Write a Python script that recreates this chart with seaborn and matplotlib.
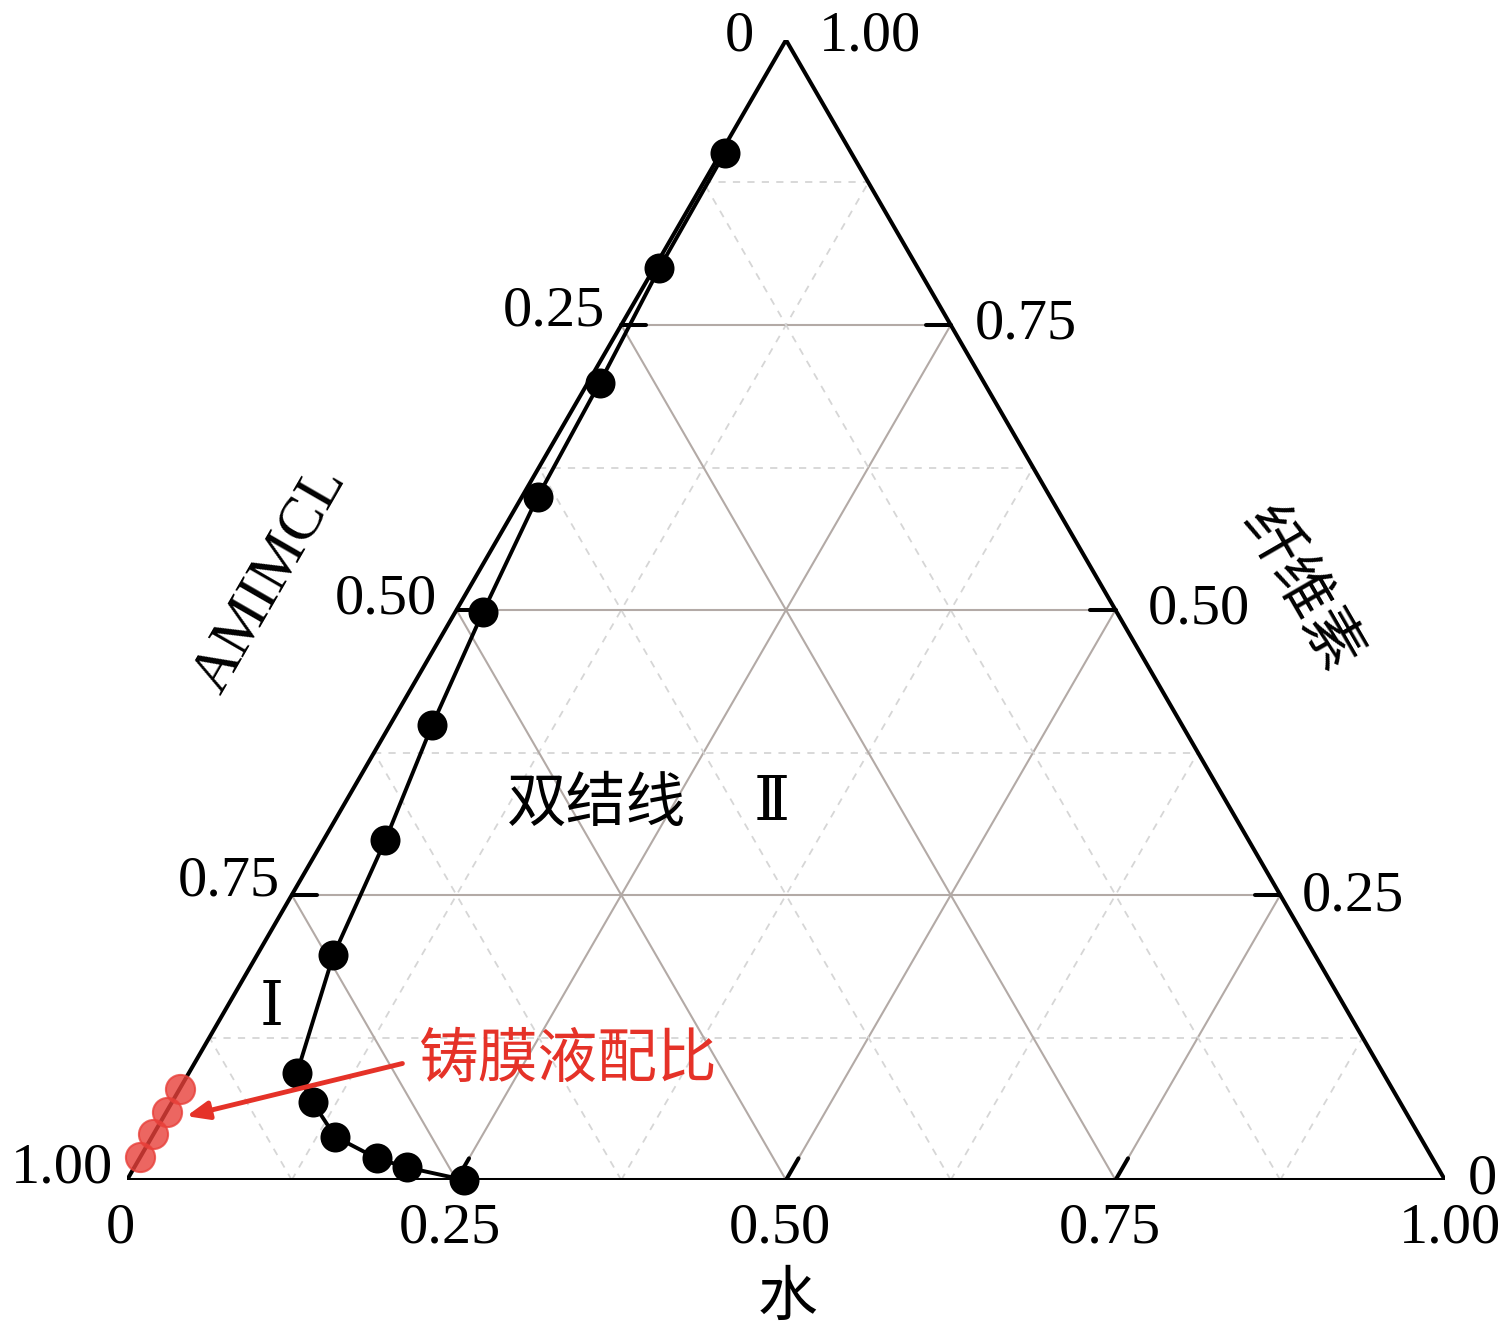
import numpy as np
import pandas as pd
import matplotlib
matplotlib.use('Agg')
import matplotlib.pyplot as plt
import seaborn as sns

# Binodal curve points (mass fractions)
binodal_water = [0.003, 0.004, 0.009, 0.012, 0.021, 0.032, 0.047, 0.058, 0.082, 0.107, 0.139, 0.180, 0.207, 0.256]
binodal_cellulose = [0.901, 0.800, 0.699, 0.599, 0.498, 0.399, 0.298, 0.197, 0.094, 0.068, 0.038, 0.019, 0.011, 0.0]

# Casting solution ratios (red points)
cast_water = [0.0, 0.0, 0.0, 0.0]
cast_cellulose = [0.08, 0.06, 0.04, 0.02]

tick_values = [0.25, 0.50, 0.75]

H = np.sqrt(3) / 2


def to_xy(w, c):
    w = np.asarray(w, dtype=float)
    c = np.asarray(c, dtype=float)
    return w + c / 2, c * H


sns.set_theme(style="white")
plt.rcParams['font.family'] = ['Liberation Serif', 'DejaVu Serif', 'Noto Sans CJK SC']
plt.rcParams['text.color'] = 'black'
cjk = ['Noto Sans CJK SC', 'DejaVu Sans']

fig = plt.figure(figsize=(15.09, 13.38), dpi=100)
ax = fig.add_axes([127 / 1509, 158 / 1338, 1318 / 1509, 1140 / 1338])
ax.set_xlim(0, 1)
ax.set_ylim(0, H)
ax.axis('off')

# Grid lines
for k in range(1, 8):
    v = k / 8
    solid = (k % 2 == 0)
    kw = dict(color='#b3aaa6', lw=1.5, ls='-') if solid else dict(color='#d6d6d6', lw=1.3, ls=(0, (4, 4)))
    # cellulose constant
    ax.plot([v / 2, 1 - v / 2], [v * H, v * H], zorder=1, **kw)
    # water constant
    ax.plot([v, v + (1 - v) / 2], [0, (1 - v) * H], zorder=1, **kw)
    # AMIMCL constant
    ax.plot([v, v / 2], [0, v * H], zorder=1, **kw)

# Triangle frame
ax.plot([0, 1, 0.5, 0], [0, 0, H, 0], color='black', lw=2.9, zorder=3, solid_joinstyle='miter')

# Tick marks
tl = 0.019
for v in tick_values:
    # left edge (AMIMCL), horizontal inward
    ax.plot([(1 - v) / 2, (1 - v) / 2 + tl], [(1 - v) * H, (1 - v) * H], color='black', lw=2.9, zorder=3)
    # right edge (cellulose), horizontal inward
    ax.plot([1 - v / 2, 1 - v / 2 - tl], [v * H, v * H], color='black', lw=2.9, zorder=3)
    # bottom edge (water), slanted inward
    ax.plot([v, v + tl * 0.5], [0, tl * H], color='black', lw=2.9, zorder=3)

# Binodal curve
bx, by = to_xy(binodal_water, binodal_cellulose)
df_b = pd.DataFrame({'x': bx, 'y': by})
sns.lineplot(data=df_b, x='x', y='y', sort=False, color='black', lw=2.8, ax=ax, zorder=4)
sns.scatterplot(data=df_b, x='x', y='y', color='black', s=400, edgecolor='black', ax=ax, zorder=5, clip_on=False)

# Casting solution points
cx, cy = to_xy(cast_water, cast_cellulose)
df_c = pd.DataFrame({'x': cx, 'y': cy})
sns.scatterplot(data=df_c, x='x', y='y', color='#e8403a', alpha=0.8, s=440, edgecolor='#e8403a',
                linewidth=1.5, ax=ax, zorder=6, clip_on=False)
ax.set_xlabel('')
ax.set_ylabel('')

# Arrow
ax.annotate('', xy=(0.043, 0.048), xytext=(0.211, 0.089),
            arrowprops=dict(arrowstyle='-|>,head_length=1.1,head_width=0.45', color='#e53228', lw=3.5),
            zorder=7)

fs = 42
# Apex labels
ax.text(0.465, 0.8686, '0', fontsize=fs, ha='center', va='center', clip_on=False)
ax.text(0.5637, 0.8686, '1.00', fontsize=fs, ha='center', va='center', clip_on=False)

# Left axis labels
for (xr, yc, lab) in [(0.3627, 0.6596, '0.25'), (0.2352, 0.4407, '0.50'), (0.1161, 0.2264, '0.75'), (-0.0106, 0.0091, '1.00')]:
    ax.text(xr, yc, lab, fontsize=fs, ha='right', va='center', clip_on=False)

# Bottom axis labels
for (xc, lab) in [(-0.0053, '0'), (0.245, '0.25'), (0.4954, '0.50'), (0.7458, '0.75'), (1.0038, '1.00')]:
    ax.text(xc, -0.0365, lab, fontsize=fs, ha='center', va='center', clip_on=False)

# Right axis labels
for (xl, yc, lab) in [(0.6434, 0.6497, '0.75'), (0.7747, 0.4331, '0.50'), (0.8915, 0.215, '0.25'), (1.0175, 0.0, '0')]:
    ax.text(xl, yc, lab, fontsize=fs, ha='left', va='center', clip_on=False)

# Axis titles
ax.text(0.5008, -0.0897, '水', fontsize=43, family=cjk, ha='center', va='center', clip_on=False)
ax.text(0.1085, 0.456, 'AMIMCL', fontsize=44, rotation=60, ha='center', va='center', clip_on=False)
ax.text(0.89, 0.448, '纤维素', fontsize=43, family=cjk, rotation=-60, ha='center', va='center', clip_on=False)

# Region annotations
ax.text(0.3566, 0.285, '双结线', fontsize=43, family=cjk, ha='center', va='center')
ax.text(0.4894, 0.285, 'Ⅱ', fontsize=44, ha='center', va='center')
ax.text(0.11, 0.1292, 'Ⅰ', fontsize=44, ha='center', va='center')
ax.text(0.3346, 0.0912, '铸膜液配比', fontsize=43, family=cjk, color='#e53228', ha='center', va='center')

fig.savefig('out.png', dpi=100)
